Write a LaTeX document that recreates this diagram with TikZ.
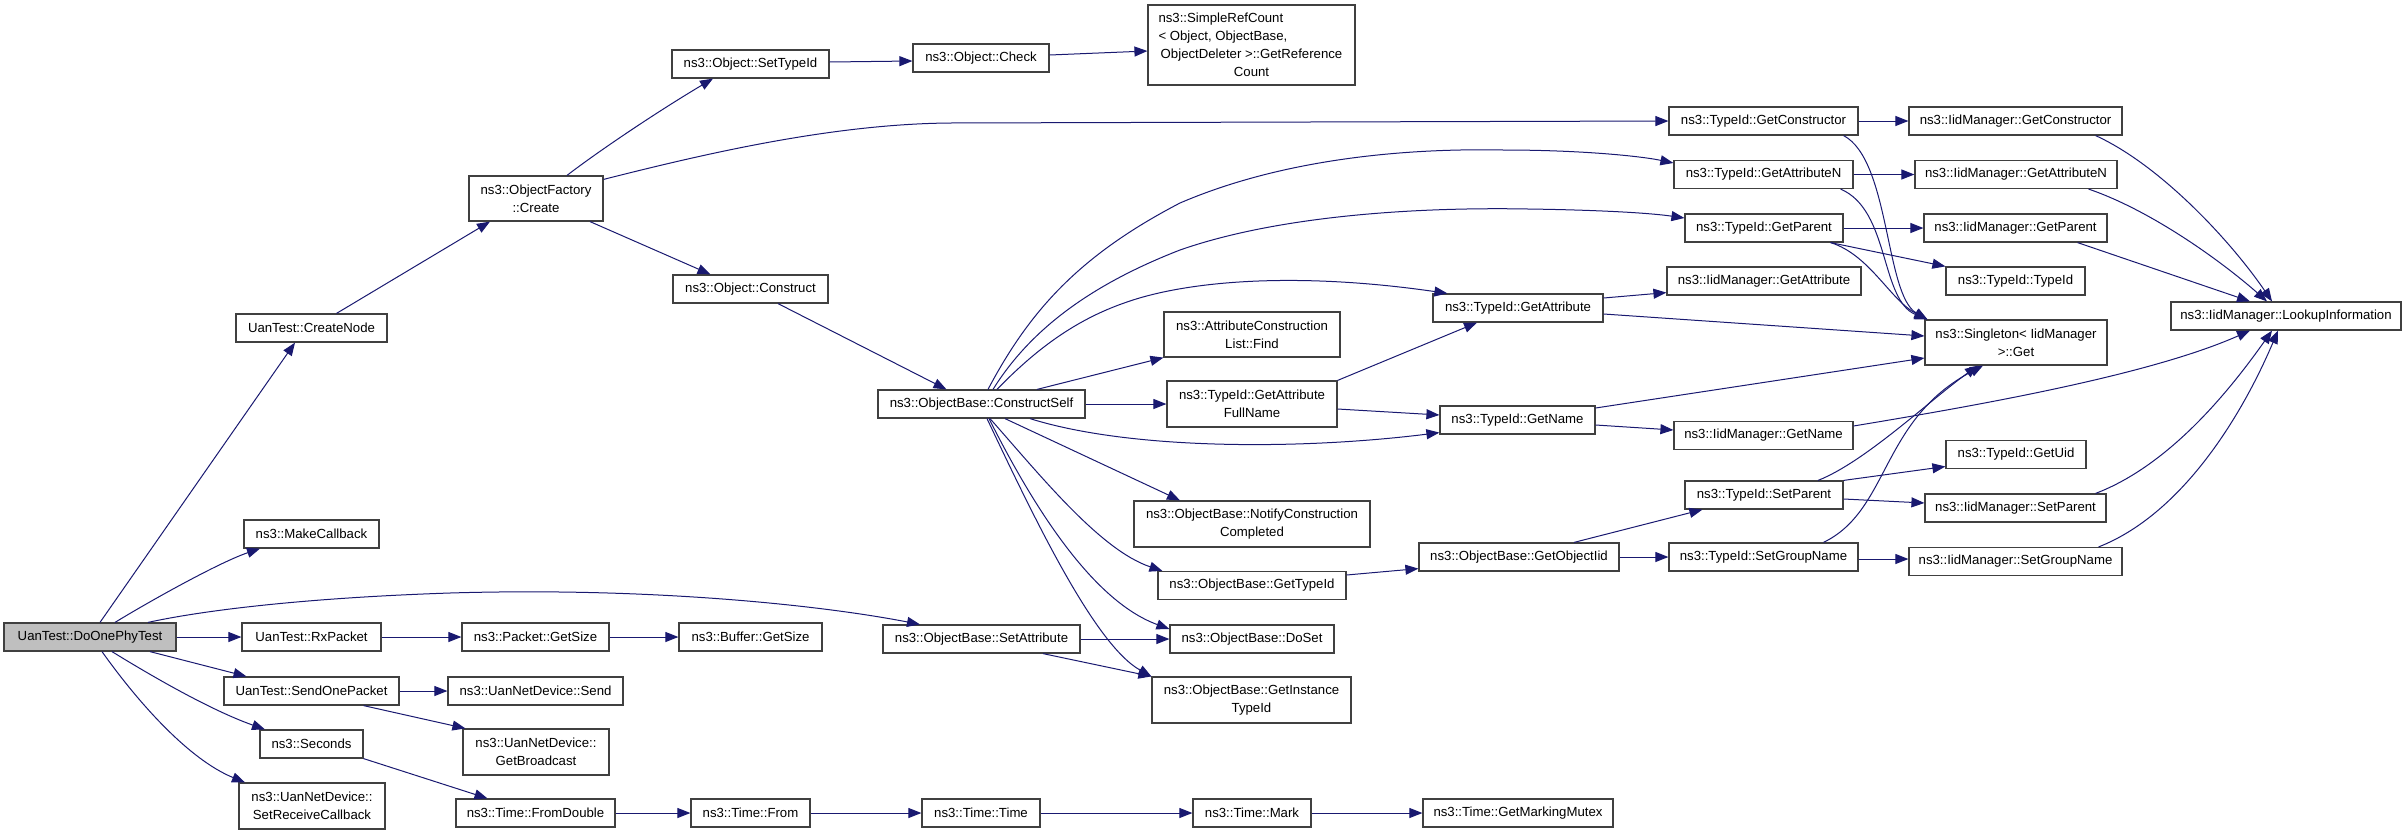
\documentclass[tikz,border=0pt]{standalone}
\usepackage{fontspec}
\setmainfont{Liberation Sans}
\usetikzlibrary{arrows.meta,calc,positioning}
\definecolor{EdgeBlue}{HTML}{191970}
\definecolor{BoxLine}{HTML}{404040}
\definecolor{RootFill}{HTML}{BFBFBF}
\tikzset{
  fn/.style={draw=BoxLine, line width=1.2pt, fill=white, inner sep=0pt, align=center,
    minimum height=28pt, font=\fontsize{13.2}{18}\selectfont},
  fntwo/.style={fn, minimum height=46pt},
  call/.style={draw=EdgeBlue, line width=1pt, -{Triangle[length=13pt,width=10pt]}},
}

\begin{document}
\begin{tikzpicture}[x=1pt, y=-1pt]
    \useasboundingbox (0,0) rectangle (2408,833);

    % callers on the left
    \node[fn, fill=RootFill, minimum width=172pt] (doone) at (90,637) {UanTest::DoOnePhyTest};
    \node[fn, minimum width=151pt] (createnode) at (311.5,328) {UanTest::CreateNode};
    \node[fn, minimum width=135pt] (makecb) at (311.5,534) {ns3::MakeCallback};
    \node[fn, minimum width=139pt] (rxpacket) at (311.5,637) {UanTest::RxPacket};
    \node[fn, minimum width=175pt] (sendone) at (311.5,691) {UanTest::SendOnePacket};
    \node[fn, minimum width=103pt] (seconds) at (311.5,744) {ns3::Seconds};
    \node[fntwo, minimum width=146pt] (setrecv) at (312,806) {ns3::UanNetDevice::\\SetReceiveCallback};

    \node[fntwo, minimum width=134pt, minimum height=45pt] (objfactory) at (536,198.5) {ns3::ObjectFactory\\::Create};
    \node[fn, minimum width=147pt] (pktsize) at (535.5,637) {ns3::Packet::GetSize};
    \node[fn, minimum width=175pt] (netsend) at (535.5,691) {ns3::UanNetDevice::Send};
    \node[fntwo, minimum width=146pt] (getbcast) at (536,752) {ns3::UanNetDevice::\\GetBroadcast};
    \node[fn, minimum width=159pt] (fromdouble) at (535.5,813) {ns3::Time::FromDouble};

    \node[fn, minimum width=157pt] (settypeid) at (750.5,64) {ns3::Object::SetTypeId};
    \node[fn, minimum width=155pt] (objconstruct) at (750.5,289) {ns3::Object::Construct};
    \node[fn, minimum width=143pt] (bufsize) at (750.5,637) {ns3::Buffer::GetSize};
    \node[fn, minimum width=119pt] (timefrom) at (750.5,813) {ns3::Time::From};

    \node[fn, minimum width=136pt] (objcheck) at (981,58) {ns3::Object::Check};
    \node[fn, minimum width=207pt] (constructself) at (981.5,404) {ns3::ObjectBase::ConstructSelf};
    \node[fn, minimum width=197pt] (setattr) at (981.5,639) {ns3::ObjectBase::SetAttribute};
    \node[fn, minimum width=118pt] (timetime) at (981,813) {ns3::Time::Time};

    % middle column
    \node[fn, minimum width=207pt, minimum height=80pt] (refcount) at (1251.5,45)
      {\makebox[186pt][l]{ns3::SimpleRefCount}\\\makebox[186pt][l]{< Object, ObjectBase,}\\ObjectDeleter >::GetReference\\Count};
    \node[fntwo, minimum width=176pt, minimum height=45pt] (attrfind) at (1252,334.5) {ns3::AttributeConstruction\\List::Find};
    \node[fntwo, minimum width=170pt] (fullname) at (1252,404) {ns3::TypeId::GetAttribute\\FullName};
    \node[fntwo, minimum width=236pt] (notify) at (1252,524) {ns3::ObjectBase::NotifyConstruction\\Completed};
    \node[fn, minimum width=188pt] (gettypeid) at (1252,585.5) {ns3::ObjectBase::GetTypeId};
    \node[fn, minimum width=164pt] (doset) at (1252,639) {ns3::ObjectBase::DoSet};
    \node[fntwo, minimum width=199pt] (insttypeid) at (1251.5,700) {ns3::ObjectBase::GetInstance\\TypeId};
    \node[fn, minimum width=118pt] (timemark) at (1252,813) {ns3::Time::Mark};

    \node[fn, minimum width=170pt] (getattr) at (1518,308) {ns3::TypeId::GetAttribute};
    \node[fn, minimum width=155pt] (getname) at (1517.5,420) {ns3::TypeId::GetName};
    \node[fn, minimum width=200pt] (getobjiid) at (1519,557) {ns3::ObjectBase::GetObjectIid};
    \node[fn, minimum width=190pt] (markmutex) at (1518,813) {ns3::Time::GetMarkingMutex};

    % TypeId column
    \node[fn, minimum width=189pt] (getctor) at (1763.5,121) {ns3::TypeId::GetConstructor};
    \node[fn, minimum width=179pt] (getattrn) at (1763.5,174.5) {ns3::TypeId::GetAttributeN};
    \node[fn, minimum width=158pt] (getparent) at (1764,228) {ns3::TypeId::GetParent};
    \node[fn, minimum width=194pt] (iidgetattr) at (1764,281) {ns3::IidManager::GetAttribute};
    \node[fn, minimum width=179pt] (iidgetname) at (1763.5,435.5) {ns3::IidManager::GetName};
    \node[fn, minimum width=158pt] (setparent) at (1764,495) {ns3::TypeId::SetParent};
    \node[fn, minimum width=189pt] (setgroup) at (1763.5,557) {ns3::TypeId::SetGroupName};

    % IidManager column
    \node[fn, minimum width=213pt] (iidgetctor) at (2015.5,121) {ns3::IidManager::GetConstructor};
    \node[fn, minimum width=202pt] (iidgetattrn) at (2016,174.5) {ns3::IidManager::GetAttributeN};
    \node[fn, minimum width=183pt] (iidgetparent) at (2015.5,228) {ns3::IidManager::GetParent};
    \node[fn, minimum width=139pt] (typeidctor) at (2015.5,281) {ns3::TypeId::TypeId};
    \node[fntwo, minimum width=182pt, minimum height=45pt] (singleton) at (2016,342.5) {ns3::Singleton< IidManager\\>::Get};
    \node[fn, minimum width=140pt] (getuid) at (2016,454.5) {ns3::TypeId::GetUid};
    \node[fn, minimum width=181pt] (iidsetparent) at (2015.5,508) {ns3::IidManager::SetParent};
    \node[fn, minimum width=213pt] (iidsetgroup) at (2015.5,561.5) {ns3::IidManager::SetGroupName};

    \node[fn, minimum width=230pt] (lookup) at (2286,316) {ns3::IidManager::LookupInformation};

    % calls from the test
    \draw[call] ([xshift=10pt]doone.north) -- ([xshift=-16.5pt]createnode.south);
    \draw[call] ([xshift=25pt]doone.north) .. controls (150,601) and (220,562) .. ([xshift=-51.5pt]makecb.south);
    \draw[call] ([xshift=58pt]doone.north) .. controls (200,611) and (300,598) .. (450,593)
      .. controls (650,587) and (820,605) .. ([xshift=-61.5pt]setattr.north);
    \draw[call] (doone.east) -- (rxpacket.west);
    \draw[call] ([xshift=60pt]doone.south) -- ([xshift=-65pt]sendone.north);
    \draw[call] ([xshift=22pt]doone.south) .. controls (150,675) and (210,710) .. ([xshift=-46.5pt]seconds.north);
    \draw[call] ([xshift=12pt]doone.south) .. controls (140,705) and (190,760) .. ([xshift=-67pt]setrecv.north);

    \draw[call] ([xshift=25pt]createnode.north) -- ([xshift=-46pt]objfactory.south);
    \draw[call] ([xshift=31pt]objfactory.north) .. controls (600,150) and (660,110) .. ([xshift=-37.5pt]settypeid.south);
    \draw[call] ([yshift=-4pt]objfactory.north east) .. controls (700,155) and (830,124) .. (950,123) -- (getctor.west);
    \draw[call] ([xshift=54pt]objfactory.south) -- ([xshift=-40pt]objconstruct.north);
    \draw[call] ([yshift=2pt]settypeid.east) -- ([yshift=-3pt]objcheck.west);
    \draw[call] ([yshift=3pt]objcheck.east) -- ([yshift=-6pt]refcount.west);
    \draw[call] ([xshift=27.5pt]objconstruct.south) -- ([xshift=-35pt]constructself.north);

    \draw[call] (rxpacket.east) -- (pktsize.west);
    \draw[call] (pktsize.east) -- (bufsize.west);
    \draw[call] (sendone.east) -- (netsend.west);
    \draw[call] ([xshift=-36pt]sendone.south east) -- ([xshift=3pt]getbcast.north west);
    \draw[call] (seconds.south east) -- ([xshift=-48pt]fromdouble.north);
    \draw[call] (fromdouble.east) -- (timefrom.west);
    \draw[call] (timefrom.east) -- (timetime.west);
    \draw[call] (timetime.east) -- (timemark.west);
    \draw[call] (timemark.east) -- (markmutex.west);

    % ConstructSelf
    \draw[call] ([xshift=6.5pt]constructself.north) .. controls (1030,310) and (1080,255) .. (1180,203)
      .. controls (1280,160) and (1400,148) .. (1503,150) .. controls (1580,150) and (1640,156) .. ([yshift=11.5pt]getattrn.west);
    \draw[call] ([xshift=11.5pt]constructself.north) .. controls (1030,330) and (1090,285) .. (1180,250)
      .. controls (1280,215) and (1420,207) .. (1528,209) .. controls (1600,210) and (1650,213) .. ([yshift=10pt]getparent.west);
    \draw[call] ([xshift=15.5pt]constructself.north) .. controls (1040,345) and (1080,318) .. (1127,302)
      .. controls (1190,280) and (1300,272) .. ([xshift=15pt]getattr.north west);
    \draw[call] ([xshift=55.5pt]constructself.north) -- (attrfind.south west);
    \draw[call] (constructself.east) -- (fullname.west);
    \draw[call] ([xshift=48.5pt]constructself.south) .. controls (1130,450) and (1300,450) .. ([yshift=2pt]getname.south west);
    \draw[call] ([xshift=23.5pt]constructself.south) -- ([xshift=-72pt]notify.north);
    \draw[call] ([xshift=8.5pt]constructself.south) .. controls (1040,475) and (1100,550) .. ([xshift=5pt]gettypeid.north west);
    \draw[call] ([xshift=7.5pt]constructself.south) .. controls (1030,500) and (1090,600) .. ([yshift=10pt]doset.west);
    \draw[call] ([xshift=5.5pt]constructself.south) .. controls (1035,520) and (1095,645) .. (insttypeid.north west);

    \draw[call] (setattr.east) -- (doset.west);
    \draw[call] ([xshift=61.5pt]setattr.south) -- (insttypeid.north west);
    \draw[call] (fullname.north east) -- ([xshift=-41pt]getattr.south);
    \draw[call] ([yshift=-5pt]fullname.east) -- ([yshift=5pt]getname.west);
    \draw[call] ([yshift=10.5pt]gettypeid.east) -- ([yshift=3pt]getobjiid.south west);

    % TypeId calls
    \draw[call] ([yshift=10pt]getattr.east) -- ([yshift=3pt]iidgetattr.south west);
    \draw[call] ([yshift=-6pt]getattr.east) -- ([yshift=6.5pt]singleton.west);
    \draw[call] ([yshift=12pt]getname.east) -- ([yshift=-15.5pt]singleton.west);
    \draw[call] ([yshift=-5pt]getname.east) -- ([yshift=5.5pt]iidgetname.west);
    \draw[call] ([yshift=9.5pt]iidgetname.east) .. controls (1980,405) and (2150,375) .. ([xshift=-36pt]lookup.south);

    \draw[call] (getctor.east) -- (iidgetctor.west);
    \draw[call] ([xshift=-15pt]getctor.south east) .. controls (1890,160) and (1885,295) .. ([xshift=3pt]singleton.north west);
    \draw[call] (getattrn.east) -- (iidgetattrn.west);
    \draw[call] ([xshift=-13pt]getattrn.south east) .. controls (1890,210) and (1880,300) .. ([xshift=3pt]singleton.north west);
    \draw[call] (getparent.east) -- (iidgetparent.west);
    \draw[call] ([xshift=-13pt]getparent.south east) -- (typeidctor.north west);
    \draw[call] ([xshift=-13pt]getparent.south east) .. controls (1870,255) and (1890,300) .. ([xshift=3pt]singleton.north west);

    \draw[call] ([xshift=-27pt]iidgetctor.south east) .. controls (2160,165) and (2230,240) .. ([xshift=-14pt]lookup.north);
    \draw[call] ([xshift=-29pt]iidgetattrn.south east) .. controls (2150,210) and (2220,260) .. ([xshift=-19pt]lookup.north);
    \draw[call] ([xshift=-30pt]iidgetparent.south east) -- ([xshift=-36pt]lookup.north);

    \draw[call] ([xshift=55pt]getobjiid.north) -- ([xshift=18pt]setparent.south west);
    \draw[call] (getobjiid.east) -- (setgroup.west);
    \draw[call] (setparent.north east) -- ([yshift=-12pt]getuid.west);
    \draw[call] ([yshift=-4pt]setparent.east) -- ([yshift=5pt]iidsetparent.west);
    \draw[call] ([xshift=54pt]setparent.north) .. controls (1865,462) and (1930,400) .. ([xshift=-38pt]singleton.south);
    \draw[call] ([xshift=60pt]setgroup.north) .. controls (1890,510) and (1880,420) .. ([xshift=-33pt]singleton.south);
    \draw[call] ([yshift=-2pt]setgroup.east) -- ([yshift=2.5pt]iidsetgroup.west);
    \draw[call] ([xshift=-11pt]iidsetparent.north east) .. controls (2170,465) and (2230,390) .. ([xshift=-14pt]lookup.south);
    \draw[call] ([xshift=-24pt]iidsetgroup.north east) .. controls (2180,515) and (2240,420) .. ([xshift=-8pt]lookup.south);
\end{tikzpicture}
\end{document}
